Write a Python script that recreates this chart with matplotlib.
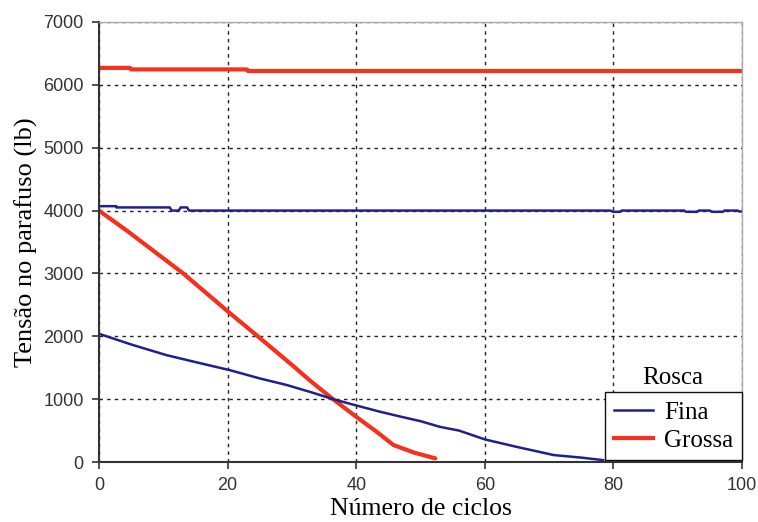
import matplotlib
matplotlib.use("Agg")
import matplotlib.pyplot as plt
from matplotlib.lines import Line2D

# Data
fina_top_x = [0, 2.7, 2.7, 11, 11.3, 12.4, 12.7, 13.7, 14, 79.5, 80, 81, 81.3, 91, 91.3, 93, 93.3, 95, 95.3, 97, 97.3, 99.3, 99.6, 100]
fina_top_y = [4070, 4070, 4050, 4050, 4000, 4000, 4050, 4050, 4000, 4000, 3980, 3980, 4000, 4000, 3980, 3980, 4000, 4000, 3980, 3980, 4000, 4000, 3985, 3985]

grossa_top_x = [0, 4.8, 5, 23, 23.2, 100]
grossa_top_y = [6270, 6270, 6245, 6245, 6220, 6220]

fina_x = [0, 5, 10.5, 15, 20.4, 25, 29.2, 33, 36.4, 40, 43.7, 47, 50, 53, 56, 60, 65, 70.7, 75, 78.4]
fina_y = [2040, 1870, 1700, 1590, 1460, 1330, 1225, 1110, 1000, 900, 800, 720, 650, 560, 500, 360, 240, 111, 70, 30]

grossa_x = [0, 4.6, 13.1, 20.1, 24.7, 30, 33, 36.4, 40, 43.2, 45.8, 49, 52.3]
grossa_y = [4000, 3660, 3000, 2390, 2000, 1545, 1280, 1000, 720, 480, 270, 150, 58]

x_ticks = [0, 20, 40, 60, 80, 100]
y_ticks = [0, 1000, 2000, 3000, 4000, 5000, 6000, 7000]

blue = "#1f1f8f"
red = "#f5301e"

fig = plt.figure(figsize=(7.58, 5.22), dpi=100)
ax = fig.add_axes([0.1306, 0.1149, 0.8483, 0.843])

ax.plot(grossa_top_x, grossa_top_y, color=red, lw=3.0)
ax.plot(fina_top_x, fina_top_y, color=blue, lw=1.8)
ax.plot(grossa_x, grossa_y, color=red, lw=3.0, solid_joinstyle="round", solid_capstyle="round")
ax.plot(fina_x, fina_y, color=blue, lw=1.8)

ax.set_xlim(0, 100)
ax.set_ylim(0, 7000)
ax.set_xticks(x_ticks)
ax.set_yticks(y_ticks)
ax.grid(True, color="#222222", linestyle=(0, (2.5, 3)), linewidth=1.0)
ax.set_axisbelow(True)

for s in ["top", "right"]:
    ax.spines[s].set_color("#aaaaaa")
    ax.spines[s].set_linewidth(1.0)
for s in ["left", "bottom"]:
    ax.spines[s].set_color("#333333")
    ax.spines[s].set_linewidth(1.5)

ax.tick_params(axis="both", direction="out", length=5, width=1.2, color="#333333",
               labelsize=13, labelcolor="#333333", pad=6)
for lab in ax.get_xticklabels() + ax.get_yticklabels():
    lab.set_fontfamily("Liberation Sans")

serif = "Liberation Serif"
ax.set_xlabel("Número de ciclos", fontsize=18.5, fontfamily=serif, labelpad=3)
ax.set_ylabel("Tensão no parafuso (lb)", fontsize=19, fontfamily=serif, labelpad=4)

handles = [Line2D([], [], color=blue, lw=1.8), Line2D([], [], color=red, lw=3.0)]
leg = ax.legend(handles, ["Fina", "Grossa"], loc="lower right", bbox_to_anchor=(1.0, 0.004),
                prop={"family": serif, "size": 18}, frameon=True, fancybox=False,
                framealpha=1, edgecolor="#111111", handlelength=1.55, handletextpad=0.45,
                labelspacing=0.22, borderpad=0.35, borderaxespad=0)
leg.get_frame().set_linewidth(1.0)
ax.text(0.893, 0.19, "Rosca", transform=ax.transAxes, ha="center", va="center",
        fontsize=18, fontfamily=serif)

fig.savefig("out.png", dpi=100)
